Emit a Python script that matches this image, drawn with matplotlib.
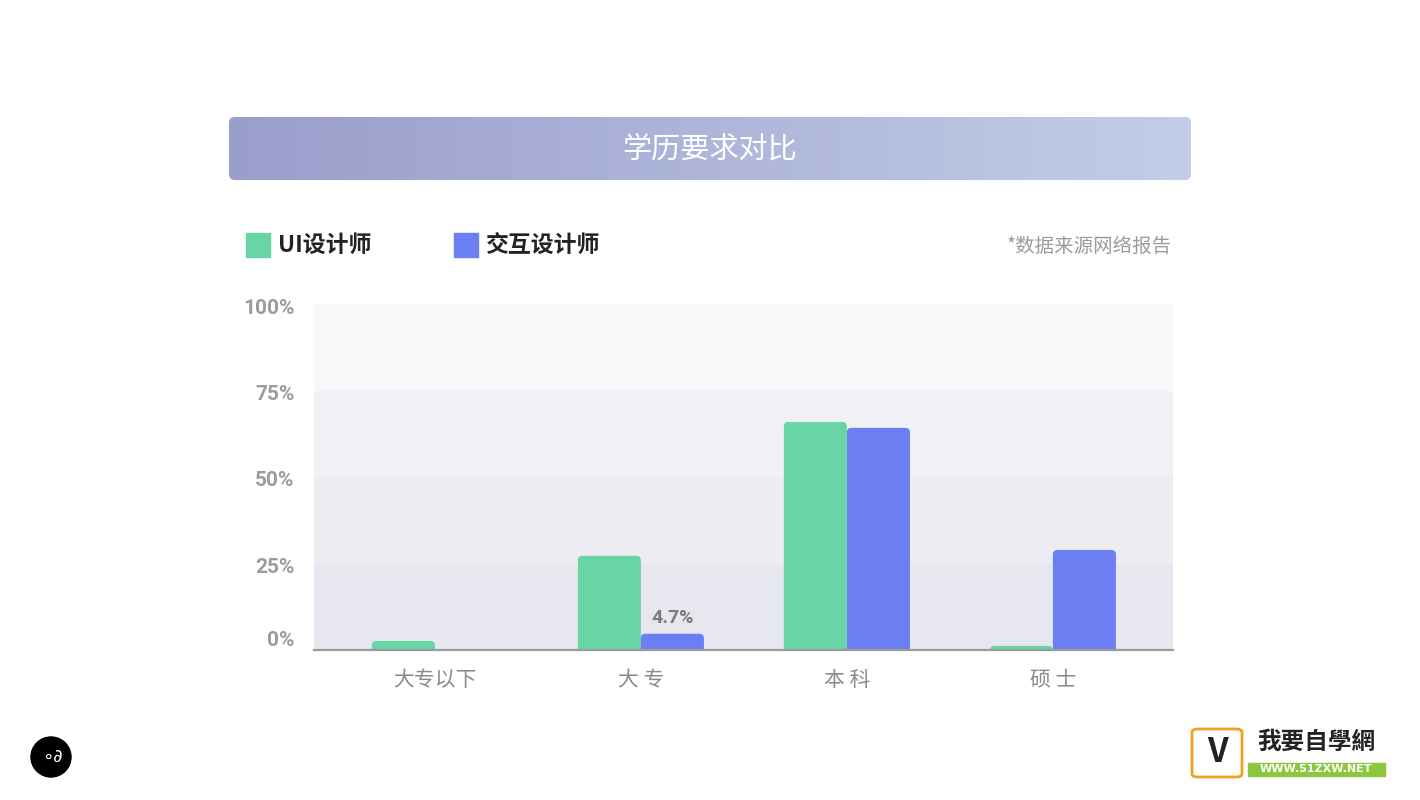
import numpy as np
import matplotlib
matplotlib.use('Agg')
import matplotlib.pyplot as plt
from matplotlib.patches import FancyBboxPatch, Rectangle, Ellipse
from matplotlib.transforms import ScaledTranslation

plt.rcParams['font.family'] = ['Noto Sans CJK SC', 'DejaVu Sans']

# Data
categories = ['大专以下', '大 专', '本 科', '硕 士']
series_names = ['UI设计师', '交互设计师']
ui_values = [2.6, 27.2, 65.9, 1.2]
ixd_values = [0.0, 4.7, 64.2, 28.9]
y_ticks = [0, 25, 50, 75, 100]
y_tick_labels = ['0%', '25%', '50%', '75%', '100%']
title = '学历要求对比'
source_note = '*数据来源网络报告'

green = '#68d5a7'
blue = '#6b7ff2'

fig = plt.figure(figsize=(14.2, 8), dpi=100)
W, H = 1420, 800

def fig_rect(x0, y0, x1, y1):
    # pixel box (top-left origin) -> figure fraction
    return [x0 / W, 1 - y1 / H, (x1 - x0) / W, (y1 - y0) / H]

# Title bar with gradient
tax = fig.add_axes(fig_rect(229, 117, 1191, 180))
tax.set_xlim(0, 1)
tax.set_ylim(0, 1)
tax.axis('off')
grad = np.linspace(0, 1, 256).reshape(1, -1)
cmap = matplotlib.colors.LinearSegmentedColormap.from_list('bar', ['#9a9ecb', '#c3cde8'])
img = tax.imshow(grad, extent=(0, 1, 0, 1), aspect='auto', cmap=cmap)
clip = FancyBboxPatch((0, 0), 1, 1, boxstyle='round,pad=0,rounding_size=0.006',
                      mutation_aspect=962 / 63, transform=tax.transAxes,
                      facecolor='none', edgecolor='none')
tax.add_patch(clip)
img.set_clip_path(clip)
tax.text(0.5, 0.48, title, ha='center', va='center', color='white', fontsize=21)

# Main chart
ax = fig.add_axes(fig_rect(314, 304, 1173, 650))
x = np.arange(len(categories))
width = 0.306
ax.set_xlim(-0.587, 3.583)
ax.set_ylim(0, 100)

band_colors = ['#e7e7ef', '#ececf2', '#f0f0f5', '#f8f8fb']
for i, c in enumerate(band_colors):
    ax.axhspan(y_ticks[i], y_ticks[i + 1], color=c, lw=0, zorder=0)

bars_ui = ax.bar(x - width / 2, ui_values, width, color=green, label=series_names[0])
bars_ixd = ax.bar(x + width / 2, ixd_values, width, color=blue, label=series_names[1])

# replace rectangles with rounded-top versions
px_x = 206.0
px_y = 3.46
r = 4.5 / px_x
for bars in (bars_ui, bars_ixd):
    for b in bars:
        b.set_visible(False)
        h = b.get_height()
        if h <= 0:
            continue
        fb = FancyBboxPatch((b.get_x(), -2.5), b.get_width(), h + 2.5,
                            boxstyle=f'round,pad=0,rounding_size={r}',
                            mutation_aspect=px_x / px_y,
                            facecolor=b.get_facecolor(), edgecolor='none', zorder=2)
        ax.add_patch(fb)

# value label
ax.text(x[1] + width / 2, ixd_values[1] + 4.6, f'{ixd_values[1]}%', ha='center', va='center',
        fontsize=14, fontweight='bold', color='#7a7a7a', family=['Roboto', 'DejaVu Sans'])

for s in ['top', 'right', 'left']:
    ax.spines[s].set_visible(False)
ax.spines['bottom'].set_color('#9a9a9a')
ax.spines['bottom'].set_linewidth(1.6)
ax.spines['bottom'].set_zorder(5)

ax.set_yticks(y_ticks)
ax.set_yticklabels(y_tick_labels, fontsize=15, fontweight='bold', color='#9b9b9b',
                   family=['Roboto', 'DejaVu Sans'])
ax.tick_params(axis='y', length=0, pad=14)
for lbl in ax.get_yticklabels():
    lbl.set_transform(lbl.get_transform() + ScaledTranslation(0, -2 / 100, fig.dpi_scale_trans))
zero_lbl = ax.get_yticklabels()[0]
zero_lbl.set_transform(zero_lbl.get_transform() + ScaledTranslation(0, 13 / 100, fig.dpi_scale_trans))

ax.set_xticks(x)
ax.set_xticklabels(categories, fontsize=15, color='#8a8a8a')
ax.tick_params(axis='x', length=0, pad=14)

# Legend
for (lx, name, col) in [(246, series_names[0], green), (454, series_names[1], blue)]:
    fig.patches.append(Rectangle((lx / W, 1 - 257 / H), 24 / W, 24 / H, color=col,
                                 transform=fig.transFigure, figure=fig))
    fig.text((lx + 32) / W, 1 - 245 / H, name, ha='left', va='center',
             fontsize=16.5, fontweight='bold', color='#222222')
fig.text(1172 / W, 1 - 246 / H, source_note, ha='right', va='center', fontsize=14, color='#9b9b9b')

# Bottom-left logo
fig.patches.append(Ellipse((51 / W, 1 - 757 / H), 40 / W, 40 / H, color='black',
                           transform=fig.transFigure, figure=fig))
fig.text(52 / W, 1 - 757 / H, '∘∂', ha='center', va='center', color='white', fontsize=13,
         family=['DejaVu Sans'])

# Bottom-right logo
fig.patches.append(FancyBboxPatch((1192 / W, 1 - 777 / H), 50 / W, 48 / H,
                                  boxstyle='round,pad=0,rounding_size=0.004',
                                  facecolor='white', edgecolor='#f0a020', lw=2,
                                  transform=fig.transFigure, figure=fig))
fig.text(1217 / W, 1 - 753 / H, 'V', ha='center', va='center', fontsize=24, fontweight='bold',
         color='#222222')
fig.text(1316 / W, 1 - 742 / H, '我要自學網', ha='center', va='center', fontsize=17,
         fontweight='bold', color='#222222')
fig.patches.append(Rectangle((1248 / W, 1 - 776 / H), 137 / W, 13 / H, color='#8cc63e',
                             transform=fig.transFigure, figure=fig))
fig.text(1316 / W, 1 - 769.5 / H, 'WWW.51ZXW.NET', ha='center', va='center', fontsize=8,
         fontweight='bold', color='white', family=['DejaVu Sans'])

fig.savefig('out.png', dpi=100, facecolor='white')
